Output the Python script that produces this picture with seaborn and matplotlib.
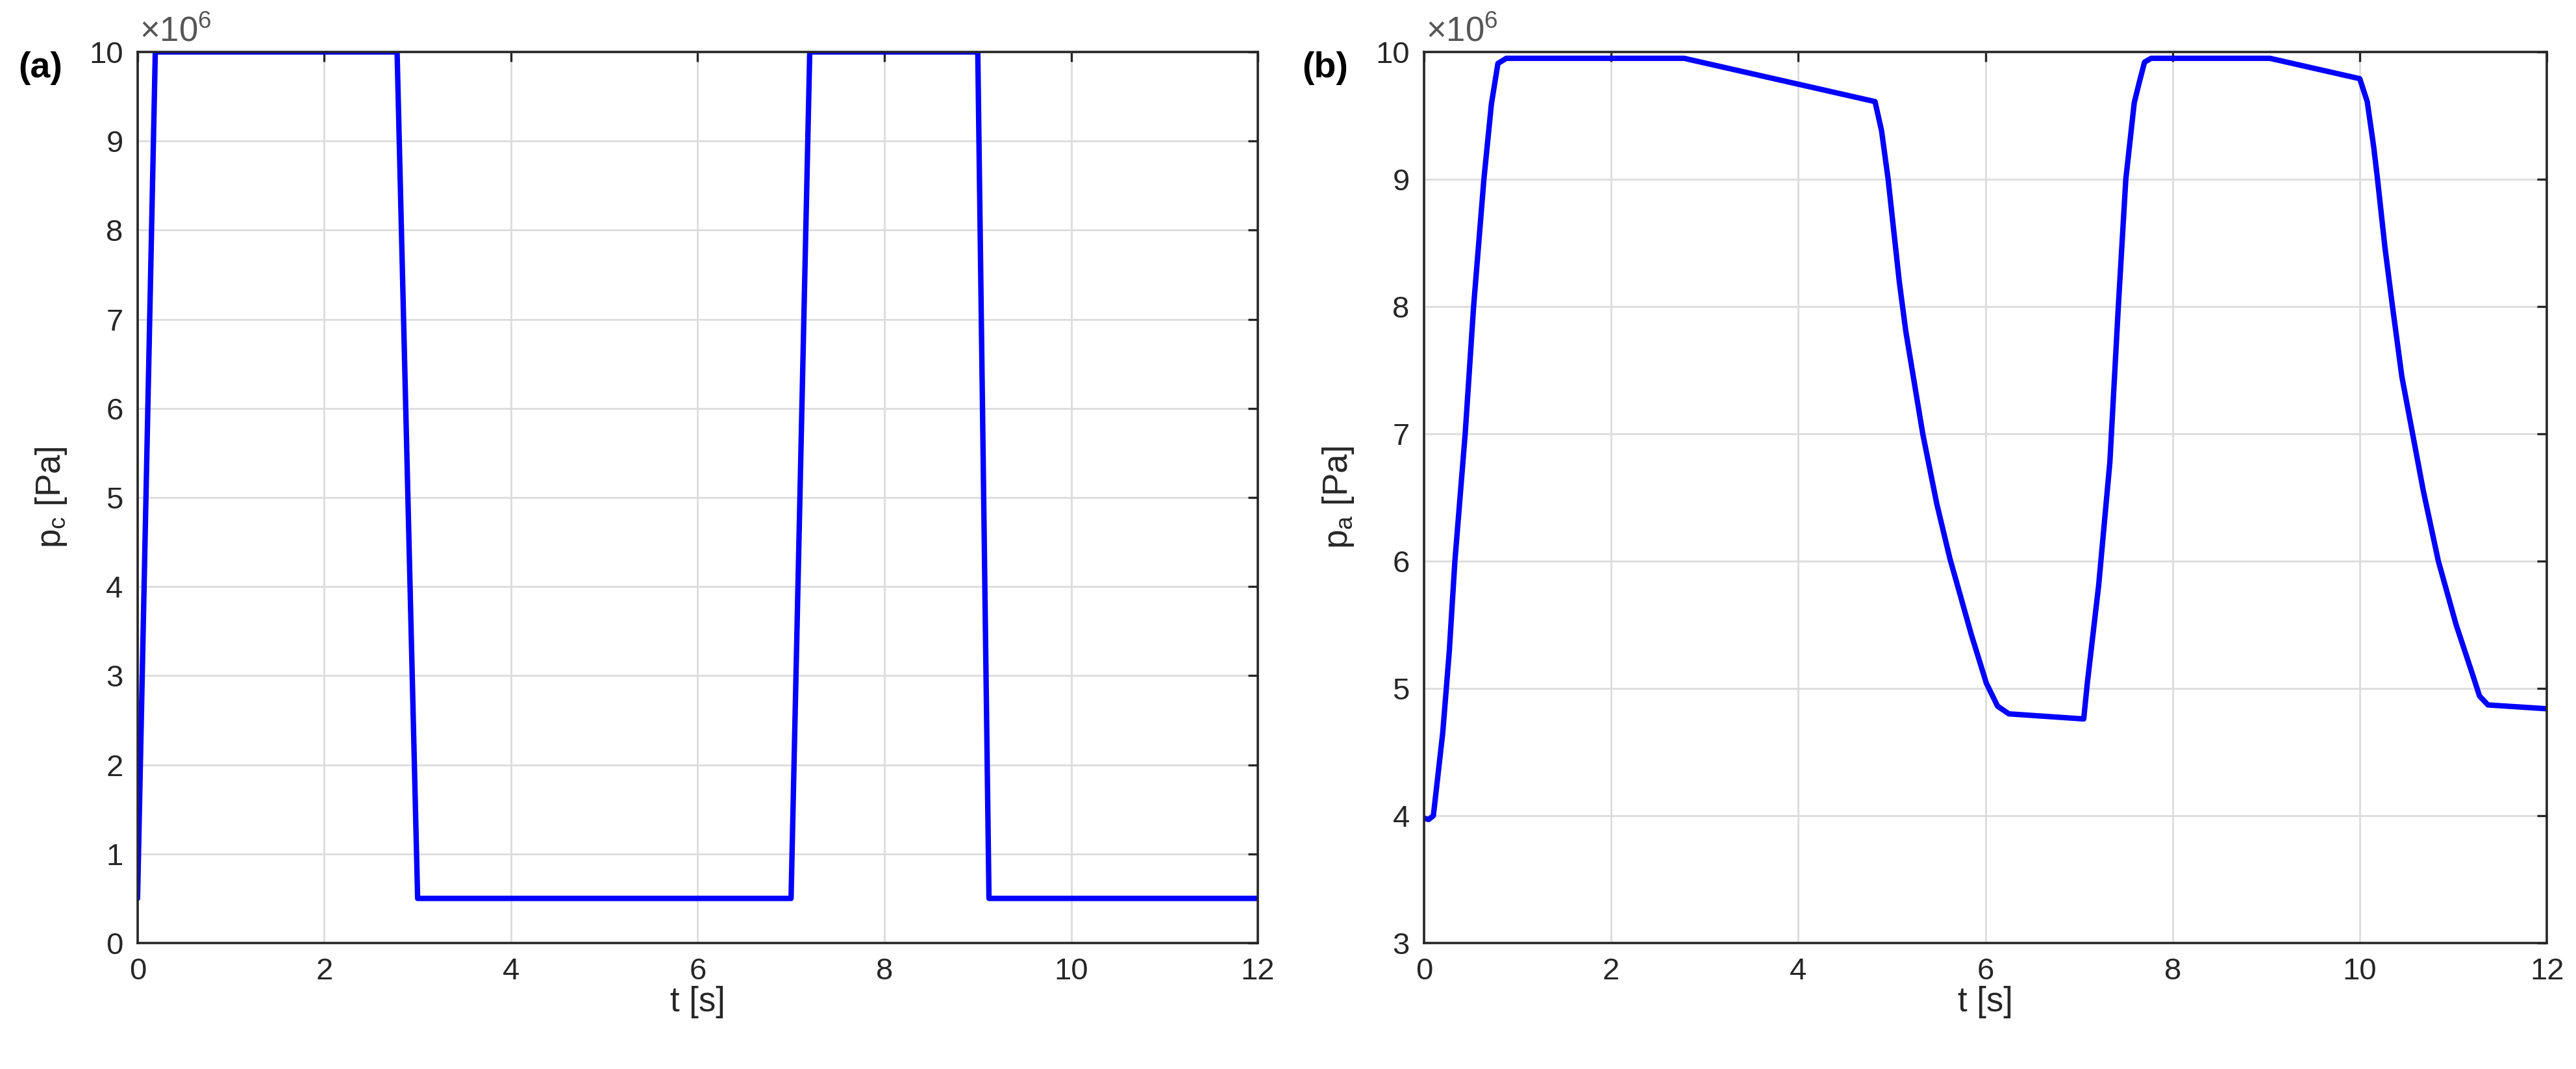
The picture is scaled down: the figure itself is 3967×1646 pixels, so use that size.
import numpy as np
import pandas as pd
import matplotlib
matplotlib.use("Agg")
import matplotlib.pyplot as plt
import seaborn as sns

# =========================
# DATA  (pressures in units of 1e6 Pa)
# =========================

t_c = [0, 0.19, 2.78, 3.0, 7.0, 7.2, 9.0, 9.12, 12]
p_c = [0.5, 10, 10, 0.5, 0.5, 10, 10, 0.5, 0.5]

t_a = [0, 0.05, 0.1, 0.2, 0.27, 0.33, 0.44, 0.53, 0.64, 0.72, 0.79, 0.88,
       2.78, 4.82, 4.89, 4.96, 5.08, 5.15, 5.33, 5.48, 5.62, 5.72, 5.85,
       6.01, 6.13, 6.25, 7.05, 7.09, 7.21, 7.33, 7.42, 7.50, 7.59, 7.64,
       7.70, 7.77, 9.04, 10.0, 10.08, 10.15, 10.19, 10.27, 10.35, 10.45,
       10.57, 10.68, 10.84, 11.03, 11.21, 11.28, 11.37, 12]
p_a = [3.98, 3.97, 4.0, 4.65, 5.29, 6.0, 7.0, 8.0, 9.0, 9.59, 9.91, 9.95,
       9.95, 9.61, 9.38, 9.0, 8.19, 7.8, 7.0, 6.45, 6.02, 5.76, 5.42,
       5.04, 4.86, 4.80, 4.76, 5.05, 5.81, 6.78, 8.0, 9.0, 9.6, 9.75,
       9.92, 9.95, 9.95, 9.79, 9.61, 9.25, 9.0, 8.46, 8.0, 7.45,
       6.98, 6.55, 6.0, 5.5, 5.1, 4.94, 4.87, 4.84]

x_ticks = [0, 2, 4, 6, 8, 10, 12]

# =========================
# STYLE
# =========================

sns.set_theme(style="whitegrid")
plt.rcParams['font.family'] = ['Liberation Sans', 'DejaVu Sans']
plt.rcParams['mathtext.fontset'] = 'custom'
plt.rcParams['mathtext.rm'] = 'Liberation Sans'
plt.rcParams['mathtext.it'] = 'Liberation Sans:italic'
plt.rcParams['mathtext.bf'] = 'Liberation Sans:bold'

axis_col = '#262626'
grid_col = '#dcdcdc'
line_col = '#0000ff'

fig = plt.figure(figsize=(19.835, 8.23), dpi=200)
ax1 = fig.add_axes([0.0534, 0.1179, 0.4349, 0.8335])
ax2 = fig.add_axes([0.5528, 0.1179, 0.4359, 0.8335])

df_c = pd.DataFrame({'t': t_c, 'p': p_c})
df_a = pd.DataFrame({'t': t_a, 'p': p_a})

sns.lineplot(data=df_c, x='t', y='p', ax=ax1, color=line_col,
             linewidth=3.0, estimator=None, sort=False)
sns.lineplot(data=df_a, x='t', y='p', ax=ax2, color=line_col,
             linewidth=3.0, estimator=None, sort=False)


def style_axes(ax, ylim, yticks, ylabel, tag, tag_x):
    ax.set_facecolor('white')
    ax.set_xlim(0, 12)
    ax.set_ylim(*ylim)
    ax.set_xticks(x_ticks)
    ax.set_yticks(yticks)
    ax.grid(True, color=grid_col, linewidth=1.0)
    for s in ax.spines.values():
        s.set_color(axis_col)
        s.set_linewidth(1.3)
        s.set_visible(True)
    ax.tick_params(direction='in', length=5.5, width=1.2, colors=axis_col,
                   labelsize=17, top=True, right=True, pad=8,
                   labelcolor=axis_col)
    ax.set_xlabel('t [s]', fontsize=19, color=axis_col, labelpad=0)
    ax.set_ylabel(ylabel, fontsize=19, color=axis_col, labelpad=11)
    ax.text(0.002, 1.004, r'$\times\mathregular{10^{6}}$', transform=ax.transAxes,
            ha='left', va='bottom', fontsize=19, color='#555555')
    fig.text(tag_x, 0.936, tag, fontsize=20, fontweight='bold',
             ha='center', va='center', color='black')


style_axes(ax1, (0, 10), range(0, 11), r'p$_\mathregular{c}$ [Pa]', '(a)', 0.0156)
style_axes(ax2, (3, 10), range(3, 11), r'p$_\mathregular{a}$ [Pa]', '(b)', 0.5145)

fig.savefig('out.png', dpi=200, facecolor='white')
